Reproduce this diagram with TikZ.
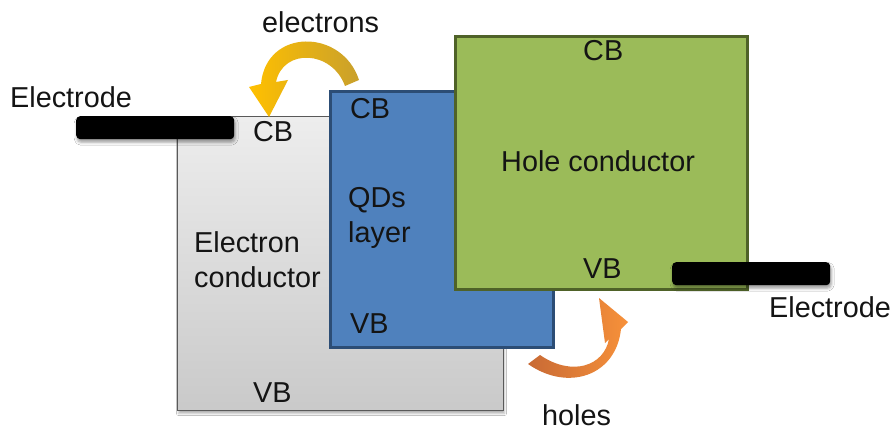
\documentclass[tikz,border=0pt]{standalone}
\usepackage{fontspec}
\setmainfont{Liberation Sans}
\usetikzlibrary{shadows.blur}
\definecolor{qdblue}{HTML}{4F81BD}
\definecolor{qdblueb}{HTML}{2C4D75}
\definecolor{hcgreen}{HTML}{9BBB59}
\definecolor{hcgreenb}{HTML}{4F6228}
\definecolor{ecgrayb}{HTML}{595959}
\definecolor{txt}{HTML}{141414}
\definecolor{elhead}{HTML}{FFC000}
\definecolor{eltail}{HTML}{C9A02C}
\definecolor{hohead}{HTML}{F7913A}
\definecolor{hotail}{HTML}{C86A35}
\begin{document}
\begin{tikzpicture}[x=1pt,y=-1pt,
  lbl/.style={inner sep=0pt, text=txt, font=\fontsize{28.8}{35}\selectfont},
  electrodebar/.style={fill=black, rounded corners=4pt, minimum width=158pt, minimum height=23pt, inner sep=0pt,
    blur shadow={shadow xshift=1pt, shadow yshift=-3pt, shadow blur radius=3pt, shadow opacity=40}},
  bandbox/.style={anchor=north west, inner sep=0pt}
]
\useasboundingbox (0,0) rectangle (896,430);
\fill[white] (0,0) rectangle (896,430);

% electron conductor (gray)
\node (ec) [bandbox, draw=ecgrayb, line width=1pt, top color=black!7, bottom color=black!21,
  minimum width=326pt, minimum height=294pt,
  blur shadow={shadow xshift=1pt, shadow yshift=-3pt, shadow blur radius=2pt, shadow opacity=30}] at (177,116) {};
% QDs layer (blue)
\node (qd) [bandbox, draw=qdblueb, fill=qdblue, line width=3pt, minimum width=223pt, minimum height=256pt] at (329,90) {};
% hole conductor (green)
\node (hc) [bandbox, draw=hcgreenb, fill=hcgreen, line width=3pt, minimum width=292pt, minimum height=253pt] at (454,35) {};

% electrodes
\node (el) [electrodebar, anchor=north west] at (76,116) {};
\node (er) [electrodebar, anchor=north west] at (672,262) {};

% electrons arrow
\shade[left color=elhead, right color=eltail]
  (359,80) .. controls (342,28) and (266,28) .. (261,84)
  -- (249,87) -- (269,117) -- (288,80) -- (276,82)
  .. controls (283,48) and (332,50) .. (345,86) -- cycle;

% holes arrow
\shade[left color=hotail, right color=hohead]
  (528,364) -- (540,355)
  .. controls (572,377) and (604,366) .. (609,339)
  -- (605,343) -- (599,298) -- (628,322) -- (621,329)
  .. controls (616,376) and (568,392) .. cycle;

% labels
\node (tel) [lbl, anchor=base west] at (10,108) {Electrode};
\node (tcb1) [lbl, anchor=base west] at (253,142) {CB};
\node (tcb2) [lbl, anchor=base west] at (350,119) {CB};
\node (tcb3) [lbl, anchor=base west] at (583,61) {CB};
\node (tqd) [lbl, anchor=north west, align=left] at (348,187) {QDs\\layer};
\node (tecd) [lbl, anchor=north west, align=left] at (194,231) {Electron\\conductor};
\node (thc) [lbl, anchor=base west] at (501,172) {Hole conductor};
\node (tvb1) [lbl, anchor=base west] at (253,402) {VB};
\node (tvb2) [lbl, anchor=base west] at (350,333) {VB};
\node (tvb3) [lbl, anchor=base west] at (583,278) {VB};
\node (ter) [lbl, anchor=base west] at (769,317) {Electrode};
\node (telec) [lbl, anchor=base west] at (262,33) {electrons};
\node (thol) [lbl, anchor=base west] at (542,425) {holes};
\end{tikzpicture}
\end{document}
